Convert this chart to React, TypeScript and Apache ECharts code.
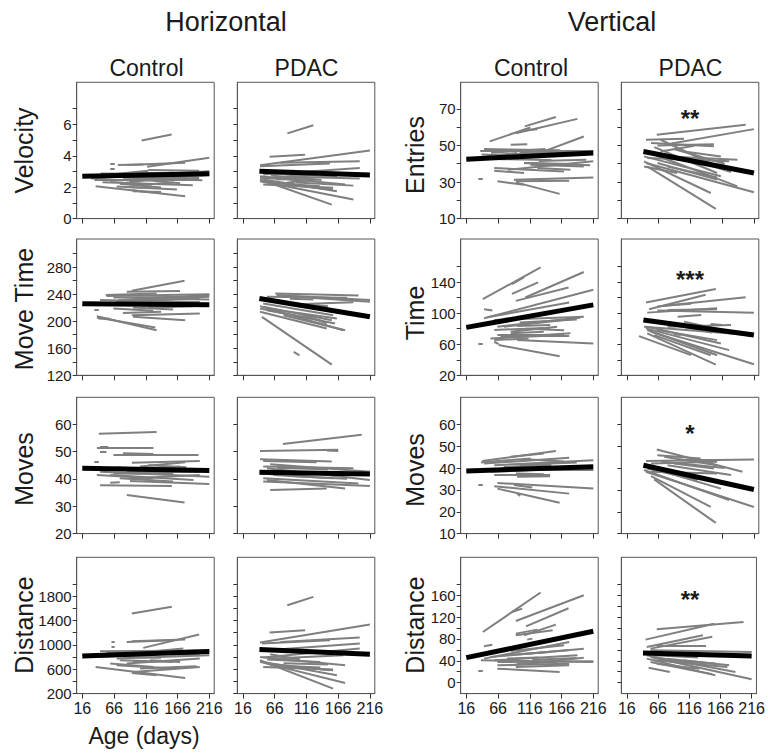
import React, { useEffect, useRef } from "react";
import * as echarts from "echarts";

// ---------- Axis tick / label values ----------
const X_TICKS = [16, 66, 116, 166, 216];
const X_RANGE = [7.2, 223.7];

const velocityTicks = [0, 1, 2, 3, 4, 5, 6, 7];
const velocityLabels = [0, 2, 4, 6];
const velocityRange = [0, 8.68];

const entriesTicks = [10, 20, 30, 40, 50, 60, 70];
const entriesLabels = [10, 30, 50, 70];
const entriesRange = [10, 84.5];

const moveTimeTicks = [120, 140, 160, 180, 200, 220, 240, 260, 280, 300];
const moveTimeLabels = [120, 160, 200, 240, 280];
const moveTimeRange = [120, 321.5];

const timeTicks = [20, 40, 60, 80, 100, 120, 140, 160];
const timeLabels = [20, 60, 100, 140];
const timeRange = [20, 195.5];

const movesHTicks = [20, 30, 40, 50, 60];
const movesHLabels = [20, 30, 40, 50, 60];
const movesHRange = [20, 69.8];

const movesVTicks = [10, 20, 30, 40, 50, 60];
const movesVLabels = [10, 20, 30, 40, 50, 60];
const movesVRange = [10, 72.4];

const distanceHTicks = [200, 400, 600, 800, 1000, 1200, 1400, 1600, 1800, 2000];
const distanceHLabels = [200, 600, 1000, 1400, 1800];
const distanceHRange = [200, 2439];

const distanceVTicks = [0, 20, 40, 60, 80, 100, 120, 140, 160, 180];
const distanceVLabels = [0, 40, 80, 120, 160];
const distanceVRange = [-20, 229.5];

// ---------- Individual trajectories [ageStart, valueStart, ageEnd, valueEnd] ----------
const velocityControl = [
  [109.5, 4.98, 156.7, 5.36], [118, 3.3, 216, 3.87], [86, 3.42, 178, 3.55], [60, 3.47, 67, 3.47],
  [60, 3.19, 67, 3.19], [72, 3.42, 112, 3.45], [37, 2.06, 178, 1.43], [94, 1.81, 128, 1.66],
  [96, 1.74, 140, 1.7], [30, 2.55, 216, 3.02], [35, 2.45, 200, 2.47], [42, 2.62, 160, 2.93],
  [48, 2.32, 190, 2.12], [60, 2.4, 216, 2.78], [55, 2.8, 120, 3.05], [70, 2.05, 165, 1.85],
  [75, 2.22, 140, 1.98], [80, 2.5, 200, 2.58], [90, 2.35, 180, 2.62], [95, 2.92, 216, 2.92],
  [100, 2.12, 160, 2.3], [105, 2.68, 190, 2.82], [45, 2.88, 100, 2.85], [85, 2.3, 125, 2.15],
  [115, 2.45, 170, 2.25], [65, 2.66, 150, 2.6], [120, 3.1, 200, 3.05], [88, 2.02, 112, 1.96],
  [110, 2.55, 205, 2.45], [52, 2.75, 170, 2.7],
];
const velocityPDAC = [
  [86, 5.43, 127, 5.94], [58, 3.94, 114, 4.06], [43, 3.4, 216, 4.34], [43, 3.34, 153, 3.51],
  [75, 3.55, 200, 3.66], [43, 2.49, 156, 0.89], [43, 2.38, 190, 1.21], [43, 2.7, 177, 2.17],
  [48, 2.81, 200, 3.23], [48, 2.49, 164, 1.74], [54, 2.38, 153, 1.85], [59, 2.28, 137, 2.06],
  [43, 2.6, 132, 2.38], [64, 2.6, 174, 2.91], [48, 2.17, 158, 1.96], [85, 2.28, 127, 2.49],
  [69, 2.49, 164, 2.7], [54, 2.91, 117, 2.7], [106, 2.06, 158, 1.85], [90, 2.66, 200, 2.55],
  [60, 2.75, 140, 2.45], [100, 2.3, 190, 2.1],
];
const entriesControl = [
  [108, 60.4, 157, 65.5], [94, 56.7, 191, 64.5], [53, 52.2, 117, 59.8], [107, 58.2, 128, 58.9],
  [117, 44.0, 201, 54.9], [38, 47.3, 216, 47.3], [44, 48.0, 164, 47.3], [86, 50.4, 112, 50.7],
  [60, 44.9, 196, 46.7], [81, 36.7, 216, 41.3], [60, 37.6, 170, 35.8], [107, 40.4, 211, 39.1],
  [117, 39.5, 201, 38.5], [91, 31.3, 216, 32.5], [94, 30.4, 178, 30.7], [65, 30.4, 107, 28.5],
  [94, 29.8, 163, 23.5], [35, 31.8, 42, 31.8], [60, 36.2, 107, 34.9], [49, 44.0, 96, 45.8],
  [75, 43.6, 138, 44.0], [107, 40.4, 180, 39.8], [128, 37.6, 180, 36.7], [55, 46.0, 140, 48.0],
  [70, 42.5, 150, 42.0], [40, 45.0, 90, 44.5], [100, 46.0, 190, 44.8], [130, 41.5, 205, 42.2],
];
const entriesPDAC = [
  [63, 55.8, 203, 61.3], [75, 50.4, 216, 58.9], [46, 53.1, 106, 53.6], [54, 51.3, 153, 49.5],
  [64, 50.0, 153, 50.7], [46, 40.4, 216, 24.4], [48, 38.5, 156, 15.3], [43, 41.3, 148, 24.0],
  [54, 45.8, 190, 27.6], [43, 44.0, 164, 33.1], [48, 43.1, 177, 41.3], [59, 49.1, 158, 34.9],
  [69, 53.1, 158, 38.5], [80, 44.0, 190, 42.2], [64, 40.4, 158, 31.3], [48, 46.7, 106, 38.5],
  [106, 46.7, 164, 44.0], [69, 46.7, 122, 49.8], [43, 38.5, 95, 34.9], [80, 38.5, 158, 32.5],
  [90, 48.0, 170, 40.0], [120, 42.0, 180, 35.5],
];
const moveTimeControl = [
  [94, 245.0, 177, 259.8], [86, 243.5, 170, 244.5], [53, 238.6, 133, 241.0], [54, 237.1, 216, 240.0],
  [73, 231.2, 216, 238.6], [65, 235.1, 207, 236.1], [44, 231.2, 159, 228.7], [70, 228.7, 201, 233.1],
  [86, 231.2, 216, 236.1], [96, 220.3, 159, 217.3], [65, 218.8, 128, 215.3], [35, 217.3, 42, 217.3],
  [94, 208.9, 201, 211.4], [96, 206.4, 178, 201.5], [39, 207.4, 133, 186.7], [39, 205.5, 131, 190.6],
  [41, 204.0, 60, 203.5], [75, 226.2, 128, 222.3], [117, 228.7, 201, 228.7], [107, 233.6, 216, 232.1],
  [60, 226.5, 120, 225.0], [120, 220.0, 190, 222.0], [80, 212.0, 140, 214.0],
];
const moveTimePDAC = [
  [67, 241.0, 198, 238.1], [69, 238.6, 216, 231.2], [80, 237.1, 216, 228.7], [54, 236.1, 180, 234.6],
  [90, 233.1, 127, 232.1], [43, 222.3, 174, 186.7], [43, 218.8, 161, 196.6], [43, 213.9, 148, 189.2],
  [48, 221.3, 156, 201.5], [48, 226.2, 158, 208.9], [54, 231.2, 158, 216.3], [46, 206.4, 156, 135.8],
  [96, 154.6, 105, 149.6], [54, 216.3, 138, 201.5], [64, 217.3, 164, 204.0], [80, 208.9, 177, 186.7],
  [106, 211.4, 148, 196.6], [60, 229.0, 150, 222.0], [100, 225.0, 190, 228.0],
];
const timeControl = [
  [42, 118.0, 133, 159.0], [88, 137.4, 107, 146.5], [88, 124.9, 129, 139.6], [94, 115.8, 177, 133.1],
  [109, 120.2, 201, 153.0], [44, 93.4, 216, 130.1], [44, 105.0, 57, 103.3], [49, 94.7, 178, 113.7],
  [60, 91.2, 201, 95.5], [60, 78.3, 148, 81.3], [65, 82.6, 196, 94.3], [75, 82.6, 170, 91.2],
  [86, 76.1, 159, 82.6], [96, 83.5, 148, 84.8], [65, 72.7, 148, 72.7], [70, 70.6, 178, 70.9],
  [54, 67.5, 170, 71.8], [94, 69.6, 180, 74.0], [60, 65.3, 114, 67.5], [96, 65.3, 216, 61.0],
  [35, 60.1, 42, 60.1], [60, 63.2, 67, 60.1], [67, 58.9, 163, 44.6], [86, 74.0, 138, 76.1],
  [100, 88.0, 190, 92.0], [110, 80.0, 170, 78.0],
];
const timePDAC = [
  [46, 113.7, 156, 131.0], [51, 105.0, 140, 123.6], [64, 108.5, 203, 120.6], [48, 100.7, 158, 106.3],
  [75, 109.4, 117, 112.0], [80, 104.2, 158, 105.0], [64, 103.3, 216, 100.7], [96, 95.5, 133, 97.7],
  [43, 82.6, 211, 71.8], [48, 82.6, 164, 61.0], [48, 78.3, 158, 45.9], [46, 80.4, 177, 52.4],
  [48, 74.0, 156, 33.8], [54, 76.1, 216, 34.2], [35, 70.5, 117, 45.9], [59, 71.8, 148, 45.9],
  [64, 78.3, 158, 65.3], [80, 82.6, 180, 84.8], [106, 89.1, 211, 70.5], [148, 86.0, 166, 84.8],
  [90, 72.7, 101, 71.8], [70, 88.0, 150, 75.0],
];
const movesHControl = [
  [42, 56.5, 133, 57.1], [39, 51.2, 128, 51.2], [44, 51.8, 57, 51.8], [44, 50.0, 54, 50.0],
  [65, 48.7, 199, 48.7], [80, 49.4, 128, 49.1], [94, 45.9, 201, 46.5], [35, 46.1, 42, 46.1],
  [107, 44.5, 178, 46.1], [44, 42.6, 216, 40.8], [60, 41.4, 191, 39.6], [39, 41.4, 128, 40.2],
  [65, 42.0, 159, 41.8], [86, 42.4, 201, 42.6], [44, 37.7, 157, 37.4], [91, 39.2, 216, 38.1],
  [75, 40.2, 159, 39.0], [86, 34.1, 177, 31.4], [60, 38.6, 75, 38.8], [96, 40.2, 201, 41.4],
  [107, 43.2, 170, 44.5], [120, 45.0, 180, 44.2], [70, 44.2, 120, 43.5],
];
const movesHPDAC = [
  [79, 52.7, 203, 56.1], [43, 50.2, 166, 50.6], [148, 50.4, 166, 50.2], [43, 47.2, 156, 46.3],
  [48, 46.5, 132, 46.1], [59, 45.3, 216, 42.6], [48, 44.5, 190, 43.9], [54, 43.9, 216, 39.6],
  [48, 40.2, 198, 38.3], [54, 39.6, 177, 36.5], [59, 35.9, 148, 36.5], [48, 39.0, 216, 37.4],
  [64, 41.4, 158, 40.2], [80, 42.6, 169, 42.0], [43, 42.0, 127, 40.8], [70, 44.0, 150, 43.5],
  [90, 41.0, 180, 40.0],
];
const movesVControl = [
  [41, 43.2, 157, 47.8], [39, 42.6, 117, 44.4], [86, 45.2, 138, 46.7], [44, 42.1, 178, 44.7],
  [60, 41.3, 216, 43.6], [70, 39.8, 201, 40.6], [86, 39.1, 216, 39.1], [54, 38.3, 180, 39.8],
  [60, 36.8, 148, 36.8], [96, 36.0, 148, 36.3], [94, 37.5, 138, 37.2], [35, 32.5, 42, 32.5],
  [65, 33.2, 216, 30.6], [60, 31.7, 178, 28.3], [91, 32.2, 120, 31.1], [96, 28.3, 101, 27.3],
  [65, 30.6, 163, 24.1], [100, 41.5, 190, 42.5], [110, 44.0, 170, 43.0], [75, 40.5, 150, 41.5],
];
const movesVPDAC = [
  [63, 48.5, 198, 38.3], [46, 43.2, 216, 43.9], [54, 42.1, 158, 42.9], [75, 45.2, 158, 41.3],
  [64, 45.9, 132, 44.4], [48, 40.6, 164, 30.6], [43, 39.1, 177, 25.3], [46, 38.3, 216, 22.2],
  [59, 34.8, 156, 14.9], [54, 36.3, 148, 22.2], [48, 39.8, 127, 34.5], [80, 41.3, 180, 36.8],
  [54, 38.3, 158, 37.5], [90, 42.1, 153, 39.8], [106, 43.6, 158, 43.6], [70, 43.0, 170, 40.0],
];
const distanceHControl = [
  [94, 1515, 157, 1625], [86, 1049, 159, 1077], [62, 1049, 67, 1049], [62, 967, 67, 967],
  [94, 1060, 178, 1088], [112, 951, 200, 1170], [44, 896, 216, 908], [54, 885, 201, 830],
  [60, 830, 175, 940], [44, 803, 191, 885], [70, 775, 216, 830], [75, 748, 159, 721],
  [86, 693, 201, 775], [96, 721, 154, 737], [37, 638, 178, 458], [94, 540, 133, 501],
  [96, 556, 201, 638], [60, 693, 128, 638], [70, 666, 159, 611], [107, 611, 196, 649],
  [123, 748, 170, 721], [80, 800, 140, 790], [110, 860, 190, 850],
];
const distanceHPDAC = [
  [86, 1652, 127, 1789], [58, 1203, 114, 1241], [43, 1038, 216, 1334], [46, 1022, 153, 1077],
  [75, 1049, 200, 1121], [48, 908, 200, 1022], [43, 748, 158, 282], [43, 721, 177, 375],
  [43, 803, 177, 666], [48, 792, 200, 940], [48, 721, 164, 501], [54, 693, 153, 584],
  [59, 666, 138, 627], [54, 759, 138, 721], [64, 775, 174, 830], [48, 638, 158, 595],
  [106, 627, 158, 584], [59, 847, 106, 759], [80, 700, 150, 680],
];
const distanceVControl = [
  [42, 92.8, 133, 165], [88, 129.5, 104, 135.6], [94, 113.0, 201, 160], [110, 103.2, 177, 136.2],
  [107, 86.7, 157, 106.3], [94, 89.8, 128, 97.1], [44, 66.6, 57, 69.6], [39, 40.9, 216, 37.9],
  [44, 44.0, 178, 74.5], [54, 47.0, 201, 62.3], [60, 40.9, 191, 50.0], [65, 37.9, 216, 39.1],
  [75, 50.0, 148, 56.2], [86, 58.0, 170, 68.4], [65, 31.8, 178, 34.8], [35, 21.4, 42, 21.4],
  [65, 25.6, 163, 19.5], [86, 31.8, 201, 45.8], [94, 28.7, 178, 31.8], [96, 34.8, 159, 37.9],
  [112, 78.8, 120, 80.6], [94, 86.7, 152, 95.9], [100, 52.0, 180, 60.0], [120, 42.0, 190, 45.0],
  [80, 44.0, 130, 46.0],
];
const distanceVPDAC = [
  [64, 97.7, 203, 111], [46, 78.8, 156, 108], [48, 65.3, 138, 86.7], [54, 62.3, 153, 84.0],
  [64, 68.4, 143, 68.4], [54, 59.2, 216, 56.2], [48, 50.0, 190, 19.5], [54, 47.0, 216, 6.1],
  [48, 44.0, 158, 13.4], [59, 40.9, 177, 28.7], [54, 37.9, 153, 15.3], [51, 27.5, 85, 19.5],
  [64, 34.8, 132, 25.6], [69, 40.9, 158, 34.8], [80, 44.0, 180, 31.8], [106, 40.9, 158, 34.8],
  [60, 50.0, 130, 46.0],
];

// ---------- Group trend lines ----------
const velocityControlTrend = [16, 2.7, 216, 2.85];
const velocityPDACTrend = [42, 3.02, 216, 2.77];
const entriesControlTrend = [16, 42.5, 216, 45.8];
const entriesPDACTrend = [42, 46.7, 216, 34.9];
const moveTimeControlTrend = [16, 225.7, 216, 224.2];
const moveTimePDACTrend = [42, 233.6, 216, 206.5];
const timeControlTrend = [16, 81.7, 216, 110.7];
const timePDACTrend = [42, 91.2, 216, 71.8];
const movesHControlTrend = [16, 43.9, 216, 43.1];
const movesHPDACTrend = [42, 42.4, 216, 41.8];
const movesVControlTrend = [16, 38.7, 216, 40.6];
const movesVPDACTrend = [42, 41.3, 216, 30.2];
const distanceHControlTrend = [16, 819, 216, 890];
const distanceHPDACTrend = [42, 923, 216, 847];
const distanceVControlTrend = [16, 45.8, 216, 94];
const distanceVPDACTrend = [42, 54.4, 216, 48.9];

// ---------- Texts ----------
const sectionTitles = ["Horizontal", "Vertical"];
const groupTitles = ["Control", "PDAC", "Control", "PDAC"];
const rowTitlesH = ["Velocity", "Move Time", "Moves", "Distance"];
const rowTitlesV = ["Entries", "Time", "Moves", "Distance"];
const significance = ["**", "***", "*", "**"];
const xTitle = "Age (days)";

// ---------- Layout ----------
const FONT = '"Liberation Sans", Arial, Helvetica, sans-serif';
const COL_LEFT = [76.7, 237.3, 460.7, 621.3];
const ROW_TOP = [82.3, 239, 397.3, 557.3];
const PANEL_W = 137.5;
const PANEL_H = 136.3;
const TEXT = "#1a1a1a";

type AxisSpec = { ticks: number[]; labels: number[]; range: number[] };
const axH: AxisSpec[] = [
  { ticks: velocityTicks, labels: velocityLabels, range: velocityRange },
  { ticks: moveTimeTicks, labels: moveTimeLabels, range: moveTimeRange },
  { ticks: movesHTicks, labels: movesHLabels, range: movesHRange },
  { ticks: distanceHTicks, labels: distanceHLabels, range: distanceHRange },
];
const axV: AxisSpec[] = [
  { ticks: entriesTicks, labels: entriesLabels, range: entriesRange },
  { ticks: timeTicks, labels: timeLabels, range: timeRange },
  { ticks: movesVTicks, labels: movesVLabels, range: movesVRange },
  { ticks: distanceVTicks, labels: distanceVLabels, range: distanceVRange },
];

const panelData: number[][][][] = [
  [velocityControl, velocityPDAC, entriesControl, entriesPDAC],
  [moveTimeControl, moveTimePDAC, timeControl, timePDAC],
  [movesHControl, movesHPDAC, movesVControl, movesVPDAC],
  [distanceHControl, distanceHPDAC, distanceVControl, distanceVPDAC],
];
const panelTrend: number[][][] = [
  [velocityControlTrend, velocityPDACTrend, entriesControlTrend, entriesPDACTrend],
  [moveTimeControlTrend, moveTimePDACTrend, timeControlTrend, timePDACTrend],
  [movesHControlTrend, movesHPDACTrend, movesVControlTrend, movesVPDACTrend],
  [distanceHControlTrend, distanceHPDACTrend, distanceVControlTrend, distanceVPDACTrend],
];

const rowTitleYH = [150.5, 309, 469, 625];
const rowTitleYV = [155, 313, 470, 625];
const sigY = [118, 279, 433, 599];

function buildOption() {
  const grid: any[] = [];
  const xAxis: any[] = [];
  const yAxis: any[] = [];
  const series: any[] = [];
  let idx = 0;
  for (let r = 0; r < 4; r++) {
    for (let c = 0; c < 4; c++) {
      const ax = c < 2 ? axH[r] : axV[r];
      grid.push({
        left: COL_LEFT[c],
        top: ROW_TOP[r],
        width: PANEL_W,
        height: PANEL_H,
        show: true,
        borderColor: "#555",
        borderWidth: 1,
        backgroundColor: "transparent",
      });
      xAxis.push({
        gridIndex: idx,
        type: "value",
        min: X_RANGE[0],
        max: X_RANGE[1],
        axisLine: { show: true, onZero: false, lineStyle: { color: "#555", width: 1 } },
        axisTick: { show: true, customValues: X_TICKS, length: 5, lineStyle: { color: "#333" } },
        axisLabel: {
          show: r === 3,
          customValues: X_TICKS,
          formatter: (v: number) => String(v),
          fontSize: 16,
          fontFamily: FONT,
          color: TEXT,
          margin: 7,
        },
        splitLine: { show: false },
      });
      yAxis.push({
        gridIndex: idx,
        type: "value",
        min: ax.range[0],
        max: ax.range[1],
        axisLine: { show: true, onZero: false, lineStyle: { color: "#555", width: 1 } },
        axisTick: { show: true, customValues: ax.ticks, length: 4, lineStyle: { color: "#333" } },
        axisLabel: {
          show: c === 0 || c === 2,
          customValues: ax.labels,
          formatter: (v: number) => String(v),
          fontSize: 15,
          fontFamily: FONT,
          color: TEXT,
          margin: 5,
        },
        splitLine: { show: false },
      });
      const segs = panelData[r][c];
      series.push({
        type: "lines",
        coordinateSystem: "cartesian2d",
        xAxisIndex: idx,
        yAxisIndex: idx,
        polyline: false,
        silent: true,
        z: 2,
        lineStyle: { color: "#7f7f7f", width: 2, opacity: 1 },
        data: segs.map((s) => ({ coords: [[s[0], s[1]], [s[2], s[3]]] })),
      });
      const t = panelTrend[r][c];
      series.push({
        type: "line",
        xAxisIndex: idx,
        yAxisIndex: idx,
        silent: true,
        symbol: "none",
        z: 4,
        lineStyle: { color: "#000", width: 5 },
        data: [[t[0], t[1]], [t[2], t[3]]],
      });
      idx++;
    }
  }

  const txt = (x: number, y: number, text: string, size: number, extra: any = {}) => ({
    type: "text",
    x,
    y,
    silent: true,
    rotation: extra.rotation || 0,
    style: {
      text,
      fontSize: size,
      fontFamily: FONT,
      fontWeight: extra.bold ? "bold" : "normal",
      fill: TEXT,
      textAlign: "center",
      textVerticalAlign: "middle",
      verticalAlign: "middle",
    },
  });

  const graphic: any[] = [
    txt(226, 22, sectionTitles[0], 27),
    txt(612, 22, sectionTitles[1], 27),
    txt(146.5, 68, groupTitles[0], 23),
    txt(306.5, 68, groupTitles[1], 23),
    txt(531, 68, groupTitles[2], 23),
    txt(690.5, 68, groupTitles[3], 23),
    txt(144, 736, xTitle, 23),
  ];
  for (let r = 0; r < 4; r++) {
    graphic.push(txt(24, rowTitleYH[r], rowTitlesH[r], 25, { rotation: Math.PI / 2 }));
    graphic.push(txt(415, rowTitleYV[r], rowTitlesV[r], 25, { rotation: Math.PI / 2 }));
    graphic.push(txt(690, sigY[r], significance[r], 24, { bold: true }));
  }

  return {
    animation: false,
    backgroundColor: "#fff",
    grid,
    xAxis,
    yAxis,
    series,
    graphic,
  };
}

export default function App() {
  const ref = useRef<HTMLDivElement>(null);
  useEffect(() => {
    if (!ref.current) return;
    const chart = echarts.init(ref.current, undefined, { renderer: "svg" });
    chart.setOption(buildOption() as any);
    return () => chart.dispose();
  }, []);
  return (
    <div
      ref={ref}
      style={{ position: "fixed", left: 0, top: 0, width: 768, height: 754, background: "#fff" }}
    />
  );
}
